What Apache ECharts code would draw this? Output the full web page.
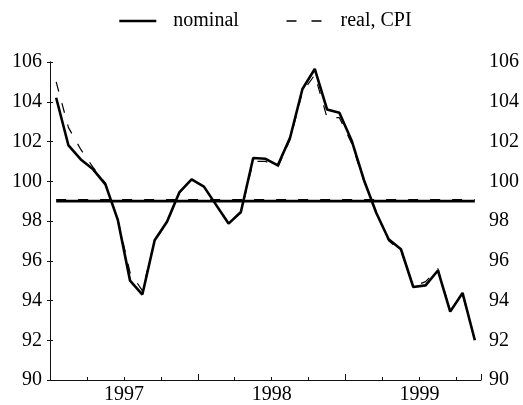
<!DOCTYPE html>
<html>
<head>
<meta charset="utf-8">
<script src="https://cdn.jsdelivr.net/npm/echarts@6/dist/echarts.min.js"></script>
<style>
  html, body { margin: 0; padding: 0; background: #fff; }
  #chart { width: 523px; height: 405px; }
</style>
</head>
<body>
<div id="chart"></div>
<script>
// monthly observations, Jan 1997 - Nov 1999
const months = [
  '1997-01','1997-02','1997-03','1997-04','1997-05','1997-06','1997-07','1997-08','1997-09','1997-10','1997-11','1997-12',
  '1998-01','1998-02','1998-03','1998-04','1998-05','1998-06','1998-07','1998-08','1998-09','1998-10','1998-11','1998-12',
  '1999-01','1999-02','1999-03','1999-04','1999-05','1999-06','1999-07','1999-08','1999-09','1999-10','1999-11'
];
const nominal = [
  104.2, 101.8, 101.1, 100.6, 99.84, 98.07, 95.0, 94.3, 97.03, 97.96, 99.44, 100.09,
  99.73, 98.8, 97.87, 98.45, 101.17, 101.13, 100.8, 102.2, 104.64, 105.65, 103.61, 103.45,
  102.04, 100.05, 98.4, 97.08, 96.58, 94.68, 94.76, 95.51, 93.44, 94.38, 92.0
];
const realCPI = [
  105.0, 102.7, 101.6, 100.7, 99.9, 98.1, 95.4, 94.5, 97.0, 97.9, 99.4, 100.1,
  99.7, 98.8, 97.9, 98.4, 101.0, 101.0, 100.7, 102.1, 104.5, 105.35, 103.2, 103.2,
  101.9, 100.0, 98.4, 97.0, 96.5, 94.7, 94.95, 95.6, 93.5, 94.3, 92.05
];
const nominalMean = 99.0;
const realMean = 99.08;
const yearTicks = [6, 18, 30];
const yearNames = ['1997', '1998', '1999'];

const font = 'Liberation Serif';
const toPoints = arr => arr.map((v, i) => [i + 0.5, v]);
const flat = v => [[0.5, v], [months.length - 0.5, v]];
const dash = [10, 12];

const chart = echarts.init(document.getElementById('chart'));
const yAxisBase = {
  type: 'value', min: 90, max: 106, interval: 2,
  splitLine: { show: false },
  axisLine: { show: true, lineStyle: { color: '#111', width: 1 } },
  axisTick: { show: true, inside: true, length: 3, lineStyle: { color: '#111' } },
  axisLabel: { color: '#000', fontFamily: font, fontSize: 20 }
};
chart.setOption({
  animation: false,
  backgroundColor: '#fff',
  grid: { left: 50, right: 42, top: 62, bottom: 21 },
  legend: {
    top: 6, left: 113,
    itemWidth: 37, itemHeight: 14, itemGap: 47,
    textStyle: { color: '#000', fontFamily: font, fontSize: 20, padding: [0, 0, 0, 12] },
    data: [
      { name: 'nominal', itemStyle: { opacity: 0 }, lineStyle: { color: '#000', width: 2.6 } },
      { name: 'real, CPI', itemStyle: { opacity: 0 }, lineStyle: { color: '#000', width: 1.3, type: [10, 15] } }
    ]
  },
  xAxis: [
    {
      type: 'value', min: 0, max: months.length, interval: 3,
      splitLine: { show: false },
      axisLine: { show: true, lineStyle: { color: '#111', width: 1 } },
      axisTick: { show: true, inside: true, length: 3, lineStyle: { color: '#111' } },
      axisLabel: {
        color: '#000', fontFamily: font, fontSize: 20, margin: 5,
        showMinLabel: true, showMaxLabel: true,
        formatter: v => { const k = yearTicks.indexOf(v); return k >= 0 ? yearNames[k] : ''; }
      }
    },
    {
      type: 'value', min: 0, max: months.length, interval: 12,
      position: 'bottom',
      splitLine: { show: false },
      axisLine: { show: false },
      axisTick: { show: true, inside: true, length: 6, lineStyle: { color: '#111' } },
      axisLabel: { show: false }
    }
  ],
  yAxis: [
    Object.assign({ position: 'left' }, yAxisBase),
    Object.assign({ position: 'right' }, yAxisBase)
  ],
  series: [
    {
      name: 'real, CPI', type: 'line', data: toPoints(realCPI),
      symbol: 'none', lineStyle: { color: '#000', width: 1.2, type: dash }, itemStyle: { color: '#000' }
    },
    {
      name: 'nominal', type: 'line', data: toPoints(nominal),
      symbol: 'none', lineStyle: { color: '#000', width: 2.6 }, itemStyle: { color: '#000' }
    },
    {
      name: 'nominal mean', type: 'line', data: flat(nominalMean),
      symbol: 'none', lineStyle: { color: '#000', width: 2.6 }, silent: true
    },
    {
      name: 'real mean', type: 'line', data: flat(realMean),
      symbol: 'none', lineStyle: { color: '#000', width: 1.2, type: dash }, silent: true
    }
  ]
});
</script>
</body>
</html>
